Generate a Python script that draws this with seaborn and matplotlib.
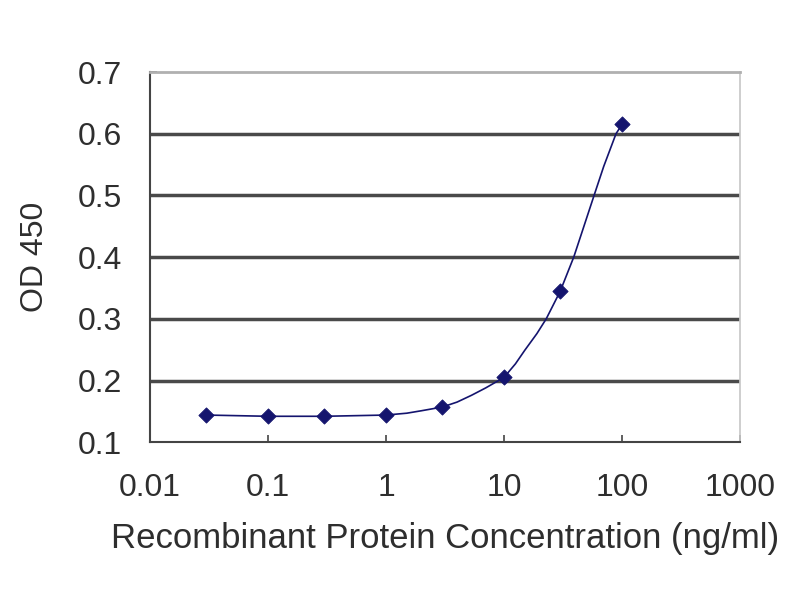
import numpy as np
import pandas as pd
import seaborn as sns
import matplotlib.pyplot as plt

# measured points
conc = [0.03, 0.1, 0.3, 1, 3, 10, 30, 100]
od = [0.144, 0.142, 0.142, 0.144, 0.157, 0.205, 0.345, 0.615]

# fitted curve
curve_conc = [0.03, 0.1, 0.3, 1, 1.5, 2, 3, 4, 5.3, 7, 10, 12.5, 15, 19, 22.8, 30,
              39, 45, 58, 70, 89, 100]
curve_od = [0.144, 0.142, 0.142, 0.144, 0.147, 0.151, 0.157, 0.165, 0.176, 0.188,
            0.205, 0.227, 0.249, 0.276, 0.300, 0.345, 0.400, 0.436, 0.500, 0.547,
            0.600, 0.615]

pts = pd.DataFrame({"conc": conc, "od": od})
fit = pd.DataFrame({"conc": curve_conc, "od": curve_od})

sns.set_theme(style="white")
plt.rcParams['font.family'] = ['Liberation Sans', 'DejaVu Sans']

fig = plt.figure(figsize=(8, 6), dpi=100)
ax = fig.add_axes([0.1875, 0.263, 0.7375, 0.617])

navy = "#14146e"
sns.lineplot(data=fit, x="conc", y="od", color=navy, linewidth=1.2, ax=ax, sort=False)
sns.scatterplot(data=pts, x="conc", y="od", marker="D", s=60, color=navy,
                edgecolor=navy, ax=ax, zorder=5)

ax.set_xscale("log")
ax.set_xlim(0.01, 1000)
ax.set_ylim(0.1, 0.7)
ax.set_xticks([0.01, 0.1, 1, 10, 100, 1000])
ax.set_xticklabels(["0.01", "0.1", "1", "10", "100", "1000"])
ax.set_yticks([0.1, 0.2, 0.3, 0.4, 0.5, 0.6, 0.7])
ax.set_yticklabels(["0.1", "0.2", "0.3", "0.4", "0.5", "0.6", "0.7"])
ax.minorticks_off()

for yv in [0.2, 0.3, 0.4, 0.5, 0.6]:
    ax.axhline(yv, color="#4a4a4a", linewidth=2.5, zorder=1)

ax.spines["left"].set_color("#444444")
ax.spines["bottom"].set_color("#444444")
ax.spines["left"].set_linewidth(1.5)
ax.spines["bottom"].set_linewidth(1.5)
ax.spines["top"].set_color("#b0b0b0")
ax.spines["right"].set_color("#c8c8c8")
ax.spines["top"].set_linewidth(2)

ax.tick_params(axis="both", which="major", direction="in", length=5, width=1.2,
               color="#444444", labelsize=23, labelcolor="#2e2e2e",
               bottom=True, left=True)
ax.tick_params(axis="x", pad=22)
ax.tick_params(axis="y", pad=20)
ax.set_xlabel("Recombinant Protein Concentration (ng/ml)", fontsize=25,
              color="#2e2e2e", labelpad=14)
ax.set_ylabel("OD 450", fontsize=23, color="#2e2e2e", labelpad=20)

fig.savefig("out.png", dpi=100)
